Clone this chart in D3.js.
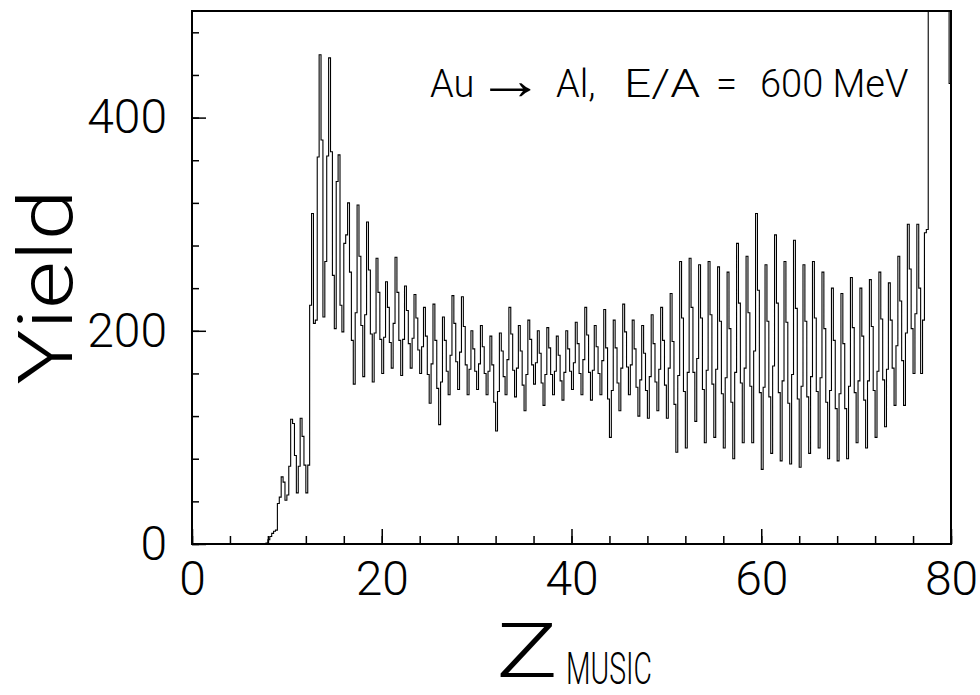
<!DOCTYPE html>
<html>
<head>
<meta charset="utf-8">
<script src="https://cdn.jsdelivr.net/npm/d3@7"></script>
<style>
  body { margin: 0; background: #fff; }
  svg { display: block; }
  text { font-family: Roboto, "Liberation Sans", Arial, sans-serif; font-weight: 300; fill: #000; }
</style>
</head>
<body>
<svg id="chart" width="980" height="695"></svg>
<script>
// histogram: Z_MUSIC bins of width 0.2 starting at Z = 7.8
const binStart = 7.8;
const binWidth = 0.2;
const counts = [
  1, 4, 7, 10, 12, 13,
  38, 44, 63, 58, 41,
  46, 73, 117, 113, 83,
  48, 73, 118, 101, 74,
  48, 74, 224, 310, 207,
  210, 363, 459, 379, 213,
  265, 364, 456, 368, 252,
  202, 340, 365, 224, 199,
  282, 290, 320, 255, 191,
  150, 217, 318, 270, 205,
  157, 215, 302, 257, 197,
  152, 198, 268, 236, 192,
  160, 194, 246, 222, 189,
  165, 207, 269, 236, 191,
  158, 192, 242, 219, 188,
  165, 193, 234, 212, 182,
  160, 185, 222, 195, 159,
  132, 169, 225, 191, 146,
  112, 152, 213, 191, 162,
  140, 177, 233, 207, 171,
  145, 180, 232, 204, 168,
  140, 164, 200, 183, 162,
  145, 169, 205, 185, 160,
  140, 162, 195, 168, 133,
  106, 143, 198, 181, 157,
  140, 173, 222, 197, 163,
  138, 165, 205, 181, 149,
  125, 159, 210, 192, 168,
  150, 170, 200, 179, 151,
  130, 159, 203, 184, 159,
  140, 162, 195, 177, 153,
  135, 161, 200, 183, 162,
  145, 170, 208, 188, 160,
  140, 173, 222, 196, 161,
  135, 163, 205, 185, 160,
  140, 172, 220, 184, 136,
  100, 144, 210, 184, 151,
  125, 165, 225, 199, 166,
  140, 168, 210, 183, 147,
  120, 154, 205, 179, 144,
  118, 157, 215, 188, 152,
  125, 164, 222, 191, 149,
  118, 165, 235, 190, 131,
  86, 158, 265, 212, 143,
  90, 161, 268, 222, 161,
  115, 174, 262, 212, 145,
  95, 163, 265, 215, 150,
  100, 164, 260, 209, 141,
  90, 156, 255, 202, 133,
  80, 161, 282, 226, 151,
  95, 165, 270, 217, 148,
  95, 181, 310, 238, 142,
  70, 147, 262, 209, 138,
  85, 167, 290, 226, 142,
  78, 153, 265, 208, 132,
  75, 159, 285, 221, 136,
  72, 148, 262, 209, 138,
  85, 157, 265, 212, 143,
  90, 156, 255, 202, 133,
  80, 144, 240, 191, 127,
  78, 141, 235, 188, 127,
  80, 148, 250, 203, 142,
  95, 153, 240, 195, 135,
  90, 153, 248, 204, 144,
  100, 162, 255, 211, 154,
  110, 164, 245, 210, 165,
  130, 186, 270, 228, 172,
  130, 198, 300, 258, 202,
  160, 216, 300, 240, 160,
  210, 292, 295, 900, 1600,
  2800, 4300, 5300, 5700, 5000,
  3700, 2400, 1300, 700, 432
];

const xDomain = [0, 80];
const yDomain = [0, 500];
const xMajorTicks = [0, 20, 40, 60, 80];
const xMinorTicks = d3.range(0, 81, 4);
const yMajorTicks = [0, 200, 400];
const yMinorTicks = d3.range(0, 481, 40);

const titleParts = ['Au', '\u2192', 'Al,', 'E/A', '=', '600 MeV'];
const yLabel = 'Yield';
const xLabelMain = 'Z';
const xLabelSub = 'MUSIC';

const margin = { top: 11, right: 29, bottom: 151, left: 192 };
const width = 980, height = 695;
const innerW = width - margin.left - margin.right;
const innerH = height - margin.top - margin.bottom;

const svg = d3.select('#chart');
const g = svg.append('g')
  .attr('transform', 'translate(' + margin.left + ',' + margin.top + ')');

const x = d3.scaleLinear().domain(xDomain).range([0, innerW]);
const y = d3.scaleLinear().domain(yDomain).range([innerH, 0]);

svg.append('defs').append('clipPath').attr('id', 'plot-clip')
  .append('rect')
  .attr('width', innerW)
  .attr('height', innerH);

// histogram outline
const pts = counts.map((c, i) => [binStart + i * binWidth, c]);
pts.unshift([binStart, 0]);
pts.push([xDomain[1], counts[counts.length - 1]]);

const line = d3.line()
  .x(d => x(d[0]))
  .y(d => y(d[1]))
  .curve(d3.curveStepAfter);

g.append('path')
  .datum(pts)
  .attr('clip-path', 'url(#plot-clip)')
  .attr('fill', 'none')
  .attr('stroke', '#000')
  .attr('stroke-width', 1.1)
  .attr('d', line);

// axes: ticks point into the frame
function styleAxis(sel) {
  sel.select('.domain').remove();
  sel.selectAll('.tick line').attr('stroke', '#000').attr('stroke-width', 1.5);
  sel.selectAll('text')
    .attr('font-family', 'Roboto, "Liberation Sans", Arial, sans-serif')
    .attr('font-weight', 300)
    .attr('font-size', 48)
    .attr('fill', '#000');
}

g.append('g')
  .attr('transform', 'translate(0,' + innerH + ')')
  .call(d3.axisBottom(x).tickValues(xMinorTicks).tickSize(-8).tickFormat(''))
  .call(styleAxis);

g.append('g')
  .attr('transform', 'translate(0,' + innerH + ')')
  .call(d3.axisBottom(x).tickValues(xMajorTicks).tickSize(-15).tickPadding(17).tickFormat(d3.format('d')))
  .call(styleAxis);

g.append('g')
  .call(d3.axisLeft(y).tickValues(yMinorTicks).tickSize(-7).tickFormat(''))
  .call(styleAxis);

g.append('g')
  .call(d3.axisLeft(y).tickValues(yMajorTicks).tickSize(-14).tickPadding(25).tickFormat(d3.format('d')))
  .call(styleAxis);

// frame
g.append('rect')
  .attr('width', innerW)
  .attr('height', innerH)
  .attr('fill', 'none')
  .attr('stroke', '#000')
  .attr('stroke-width', 2);

// title text inside the frame
const titleX = [430, 476, 556, 624, 716, 760];
const title = svg.append('g').attr('font-size', 38);
titleParts.forEach((t, i) => {
  const txt = title.append('text')
    .attr('x', titleX[i])
    .attr('y', 97)
    .text(t);
  if (t === '\u2192') {
    txt.attr('y', 99)
      .attr('font-size', 56)
      .attr('textLength', 68).attr('lengthAdjust', 'spacingAndGlyphs')
      .attr('font-family', '"DejaVu Sans", sans-serif')
      .attr('font-weight', 200);
  }
  if (t === 'E/A') txt.attr('textLength', 76).attr('lengthAdjust', 'spacingAndGlyphs');
});

// axis titles
svg.append('text')
  .attr('transform', 'translate(72,287) rotate(-90)')
  .attr('text-anchor', 'middle')
  .attr('font-size', 76)
  .attr('textLength', 195)
  .attr('lengthAdjust', 'spacingAndGlyphs')
  .text(yLabel);

svg.append('text')
  .attr('x', 496)
  .attr('y', 677)
  .attr('font-size', 76)
  .attr('textLength', 62)
  .attr('lengthAdjust', 'spacingAndGlyphs')
  .text(xLabelMain);

svg.append('text')
  .attr('x', 566)
  .attr('y', 684)
  .attr('font-size', 44)
  .attr('textLength', 86)
  .attr('lengthAdjust', 'spacingAndGlyphs')
  .text(xLabelSub);
</script>
</body>
</html>
